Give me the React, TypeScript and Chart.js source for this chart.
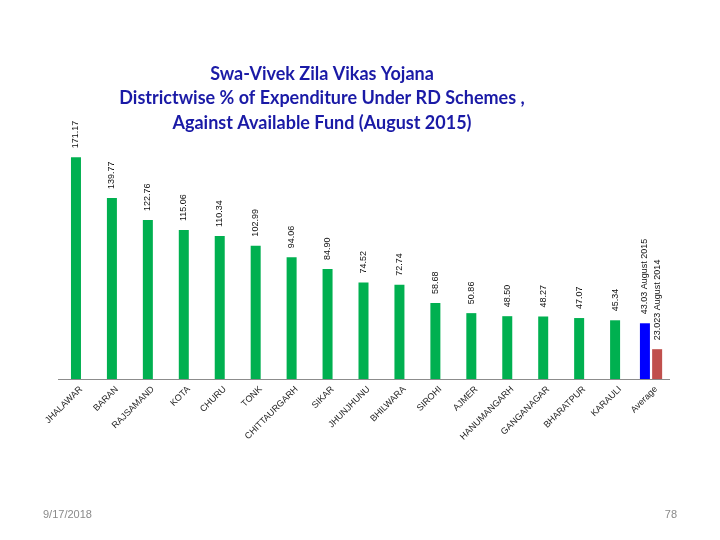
import React, { useEffect, useRef } from "react";
import { Chart, registerables } from "chart.js";

Chart.register(...registerables);

const categories = [
  "JHALAWAR", "BARAN", "RAJSAMAND", "KOTA", "CHURU", "TONK", "CHITTAURGARH", "SIKAR",
  "JHUNJHUNU", "BHILWARA", "SIROHI", "AJMER", "HANUMANGARH", "GANGANAGAR", "BHARATPUR",
  "KARAULI", "Average",
];
const districtValues = [
  171.17, 139.77, 122.76, 115.06, 110.34, 102.99, 94.06, 84.9, 74.52, 72.74, 58.68, 50.86,
  48.5, 48.27, 47.07, 45.34, null,
];
const avg2015 = [null, null, null, null, null, null, null, null, null, null, null, null, null, null, null, null, 43.03];
const avg2014 = [null, null, null, null, null, null, null, null, null, null, null, null, null, null, null, null, 23.023];
const labelSuffix = ["", " August 2015", " August 2014"];
const titleLines = [
  "Swa-Vivek Zila Vikas Yojana",
  "Districtwise % of Expenditure Under RD Schemes ,",
  "Against Available Fund (August 2015)",
];
const footerDate = "9/17/2018";
const footerPage = "78";

const valueLabelPlugin = {
  id: "valueLabels",
  afterDatasetsDraw(chart: any) {
    const ctx = chart.ctx;
    ctx.save();
    ctx.font = "9px 'Liberation Sans', Arial, sans-serif";
    ctx.fillStyle = "#111";
    ctx.textAlign = "left";
    ctx.textBaseline = "middle";
    chart.data.datasets.forEach((ds: any, di: number) => {
      const meta = chart.getDatasetMeta(di);
      meta.data.forEach((bar: any, i: number) => {
        const v = ds.data[i];
        if (v === null || v === undefined) return;
        const txt = (di === 2 ? v.toFixed(3) : v.toFixed(2)) + labelSuffix[di];
        ctx.save();
        ctx.translate(bar.x, bar.y - 9);
        ctx.rotate(-Math.PI / 2);
        ctx.fillText(txt, 0, 0);
        ctx.restore();
      });
    });
    ctx.restore();
  },
};

const textPlugin = {
  id: "slideText",
  afterDraw(chart: any) {
    const ctx = chart.ctx;
    ctx.save();
    ctx.fillStyle = "#1a1aa6";
    ctx.font = "bold 18px Lato, 'Open Sans', sans-serif";
    ctx.textAlign = "center";
    ctx.textBaseline = "middle";
    titleLines.forEach((l, i) => ctx.fillText(l, 322, 74 + i * 24.5));
    ctx.fillStyle = "#8a8a8a";
    ctx.font = "11px 'Liberation Sans', Arial, sans-serif";
    ctx.textAlign = "left";
    ctx.fillText(footerDate, 43, 515);
    ctx.textAlign = "right";
    ctx.fillText(footerPage, 677, 515);
    ctx.restore();
  },
};

export default function App() {
  const ref = useRef<HTMLCanvasElement>(null);
  useEffect(() => {
    if (!ref.current) return;
    const chart = new Chart(ref.current, {
      type: "bar",
      data: {
        labels: categories,
        datasets: [
          { data: districtValues as any, backgroundColor: "#00B050" },
          { data: avg2015 as any, backgroundColor: "#0000FF" },
          { data: avg2014 as any, backgroundColor: "#C0504D" },
        ],
      },
      options: {
        animation: false,
        responsive: false,
        maintainAspectRatio: false,
        skipNull: true,
        categoryPercentage: 0.68,
        barPercentage: 0.9,
        maxBarThickness: 10,
        layout: { padding: { left: 58, right: 51, top: 120, bottom: 0 } },
        plugins: { legend: { display: false }, tooltip: { enabled: false }, title: { display: false } },
        scales: {
          y: { display: false, min: 0, max: 200 },
          x: {
            grid: { display: false, drawTicks: false },
            border: { display: true, color: "#8c8c8c", width: 1 },
            ticks: {
              minRotation: 45,
              maxRotation: 45,
              color: "#222",
              padding: 5,
              labelOffset: 5,
              font: { size: 9, family: "'Liberation Sans', Arial, sans-serif" },
            },
            afterFit: (scale: any) => {
              scale.height = 161;
            },
          },
        },
      } as any,
      plugins: [valueLabelPlugin, textPlugin],
    });
    return () => chart.destroy();
  }, []);
  return (
    <div style={{ position: "fixed", left: 0, top: 0, width: 720, height: 540, background: "#fff" }}>
      <canvas ref={ref} width={720} height={540} style={{ width: 720, height: 540 }} />
    </div>
  );
}
